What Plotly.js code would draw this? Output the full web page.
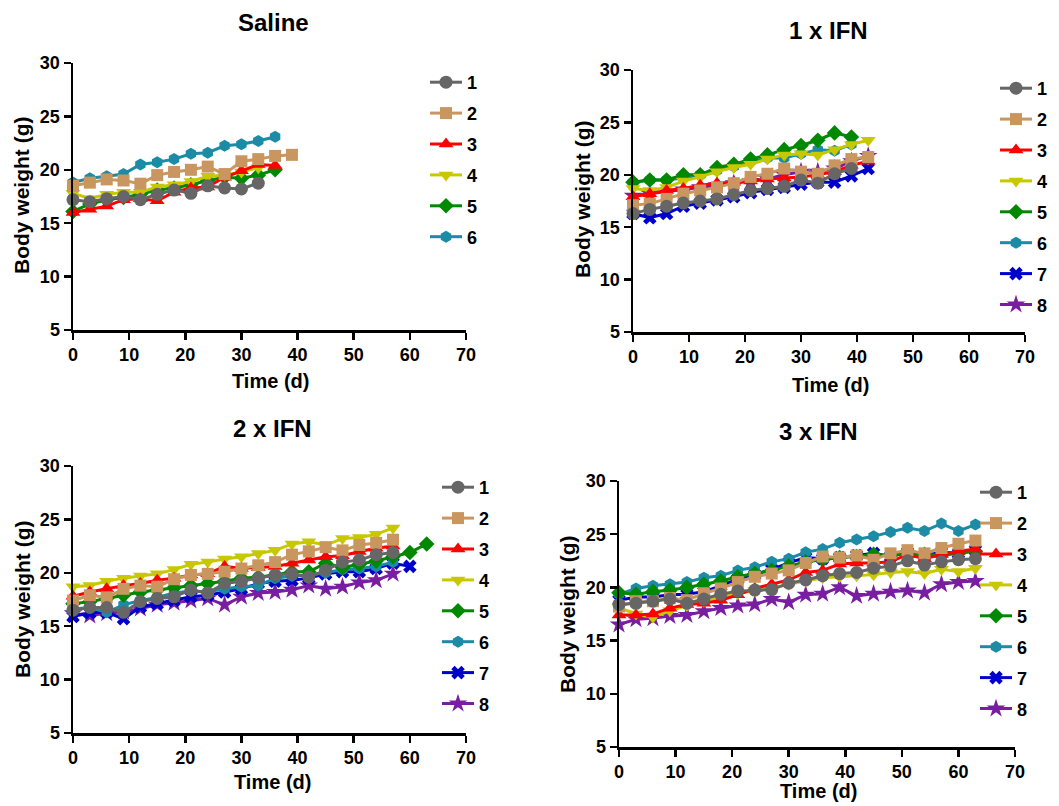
<!DOCTYPE html>
<html>
<head>
<meta charset="utf-8">
<script src="https://cdn.plot.ly/plotly-3.0.1.min.js"></script>
<style>html,body{margin:0;padding:0;background:#fff;}#chart{width:1059px;height:806px;}</style>
</head>
<body>
<div id="chart"></div>
<script>
// ---- data ----
const days = [0,3,6,9,12,15,18,21,24,27,30,33,36,39,42,45,48,51,54,57,60,63];
const seriesNames = ['1','2','3','4','5','6','7','8'];
const panelTitles = ['Saline','1 x IFN','2 x IFN','3 x IFN'];
const xTitle = 'Time (d)';
const yTitle = 'Body weight (g)';

// Saline
const saline1 = [17.2,17.0,17.3,17.5,17.2,17.7,18.1,17.8,18.5,18.3,18.2,18.75];
const saline2 = [18.5,18.8,19.1,19.0,18.7,19.5,19.8,20.0,20.3,19.6,20.8,21.0,21.3,21.4];
const saline3 = [16.0,16.3,16.6,17.2,17.3,17.1,17.9,18.3,18.4,19.3,19.9,20.5,20.4];
const saline4 = [17.8,17.3,17.7,17.9,17.9,18.4,18.6,18.9,19.4,19.5,19.8,20.2];
const saline5 = [16.1,16.8,17.2,17.4,17.7,18.1,18.3,18.6,19.0,19.3,19.2,19.5,20.0];
const saline6 = [18.8,19.2,19.4,19.6,20.5,20.7,21.0,21.5,21.6,22.25,22.4,22.7,23.1];

// 1 x IFN
const ifn1_1 = [16.3,16.7,17.0,17.3,17.5,17.7,18.1,18.5,18.7,18.9,19.5,19.2,20.1,20.6];
const ifn1_2 = [17.1,17.25,17.7,18.2,18.5,18.8,19.2,19.8,20.1,20.6,20.3,20.1,20.9,21.5,21.7];
const ifn1_3 = [17.9,18.2,18.5,18.7,19.0,19.2,19.3,19.4,19.6,19.7,19.8,20.0,20.3,20.9,21.3];
const ifn1_4 = [18.7,18.5,18.8,19.4,19.8,20.3,20.7,21.0,21.5,21.9,22.0,21.9,22.4,22.9,23.3];
const ifn1_5 = [19.3,19.5,19.5,20.0,20.0,20.7,21.0,21.5,21.9,22.4,22.8,23.3,24.0,23.6];
const ifn1_6 = [19.3,19.5,19.5,19.7,20.0,20.4,20.8,21.3,21.6,21.6,22.0,22.4,22.3,22.9];
const ifn1_7 = [16.3,15.9,16.3,17.0,17.3,17.6,17.9,18.3,18.6,18.8,19.1,19.3,19.3,19.9,20.6];
const ifn1_8 = [18.0,18.2,18.4,18.6,18.8,19.0,19.2,19.4,19.6,20.0,20.3,20.3,20.6,21.3,21.8];

// 2 x IFN
const ifn2_1 = [16.5,16.75,16.75,16.3,17.3,17.6,17.75,18.4,18.1,19.0,19.2,19.5,19.8,19.9,19.6,20.25,21.0,21.2,21.7,21.9];
const ifn2_2 = [17.4,17.9,17.7,18.5,18.8,18.7,19.4,19.8,19.9,20.1,20.4,20.7,21.0,21.7,22.0,22.4,22.1,22.6,22.8,23.1];
const ifn2_3 = [17.8,18.2,18.5,18.8,19.0,19.3,19.5,19.8,19.9,20.6,20.4,20.5,20.6,20.9,21.2,21.5,21.6,22.0,22.3,22.5];
const ifn2_4 = [18.7,18.8,19.2,19.5,19.7,19.9,20.3,20.8,21.0,21.3,21.5,21.8,22.1,22.7,22.9,22.6,23.2,23.3,23.6,24.2];
const ifn2_5 = [17.1,17.3,17.6,17.9,18.2,18.4,18.6,18.8,19.0,19.2,19.5,19.6,19.8,20.1,20.1,20.9,20.5,20.8,21.1,21.5,21.9,22.7];
const ifn2_6 = [16.6,16.75,16.3,17.0,17.4,17.7,18.1,18.3,18.2,18.5,18.7,18.8,19.5,19.7,19.8,20.0,20.3,20.4,20.6,21.0];
const ifn2_7 = [15.9,16.25,16.3,15.7,16.8,17.1,17.4,17.75,17.9,18.2,18.5,19.0,19.2,19.3,19.5,19.9,20.1,20.1,20.4,20.9,20.6];
const ifn2_8 = [16.2,16.0,16.2,16.35,16.65,17.0,17.2,17.4,17.6,17.0,17.75,18.1,18.2,18.4,18.8,18.5,18.7,19.1,19.3,19.9];

// 3 x IFN
const ifn3_1 = [18.4,18.5,18.7,18.9,18.5,18.9,19.35,19.65,19.75,19.8,20.4,20.7,21.1,21.3,21.4,21.8,22.0,22.5,22.1,22.4,22.6,22.7];
const ifn3_2 = [18.2,18.7,18.7,19.0,18.8,19.45,19.9,20.5,21.0,21.3,21.6,22.3,22.9,22.8,23.0,22.6,23.2,23.5,23.2,23.7,24.1,24.4];
const ifn3_3 = [17.4,17.4,17.5,18.05,18.4,18.5,18.8,19.3,19.9,20.3,20.7,21.4,21.6,22.2,22.3,22.3,22.4,23.1,22.7,23.1,23.4,23.6];
const ifn3_4 = [18.1,17.5,17.2,17.8,18.3,18.7,19.1,19.4,19.7,19.9,20.3,20.6,20.9,21.0,21.1,21.2,21.4,21.5,21.3,21.7,21.5,21.8];
const ifn3_5 = [19.5,19.35,19.6,19.75,20.0,20.3,20.6,21.0,21.3,21.6,22.0,22.4,22.6,22.8,22.9,23.1,23.0,23.2,23.1,23.0,23.2,23.4];
const ifn3_6 = [19.35,19.9,20.15,20.3,20.5,20.9,21.1,21.6,21.9,22.4,22.7,23.3,23.6,24.2,24.5,24.8,25.2,25.6,25.3,26.0,25.3,25.9];
const ifn3_7 = [18.8,19.1,19.1,19.3,19.35,19.6,20.15,20.8,21.2,21.7,22.3,22.8,22.7,22.8,23.0,23.2,22.9,23.3,23.0,23.3,23.2,23.5];
const ifn3_8 = [16.5,17.0,17.1,17.3,17.4,17.75,18.05,18.3,18.4,18.9,18.6,19.3,19.4,20.0,19.2,19.4,19.6,19.7,19.5,20.3,20.5,20.6];

const panels = [
  [saline1, saline2, saline3, saline4, saline5, saline6],
  [ifn1_1, ifn1_2, ifn1_3, ifn1_4, ifn1_5, ifn1_6, ifn1_7, ifn1_8],
  [ifn2_1, ifn2_2, ifn2_3, ifn2_4, ifn2_5, ifn2_6, ifn2_7, ifn2_8],
  [ifn3_1, ifn3_2, ifn3_3, ifn3_4, ifn3_5, ifn3_6, ifn3_7, ifn3_8]
];

// ---- styles ----
const colors = ['#666666','#C9965F','#FF0000','#C8C800','#008800','#1B8BA6','#0000CC','#7A1EA1'];
const symbols = ['circle','square','triangle-up','triangle-down','diamond','hexagon','x','star'];
const msizes = [13,12,13,13,12,12,12,14];
const FONT = 'Liberation Sans, Arial, sans-serif';
const W = 1059, H = 806;
const px = v => v / W;
const py = v => 1 - v / H;

// panel boxes in pixels: [x0, x70, y30, y5]
const boxes = [
  [73, 466, 63, 330],
  [633, 1025, 70, 332],
  [73, 466, 466, 733],
  [619, 1015, 481, 747]
];
const legendPos = [[425, 64], [995, 70], [437, 469], [975, 474]];
const titlePos = [[273, 22], [828, 30], [272, 428], [818, 432]];
const xTitlePos = [[270, 381], [830, 385], [272, 782], [818, 791]];
const yTitlePos = [[22, 196], [582, 200], [22, 600], [567, 615]];

const traces = [];
panels.forEach((series, p) => {
  const ax = p === 0 ? '' : String(p + 1);
  for (let i = series.length - 1; i >= 0; i--) {
    const vals = series[i];
    traces.push({
      type: 'scatter', mode: 'lines+markers',
      x: days.slice(0, vals.length), y: vals,
      xaxis: 'x' + ax, yaxis: 'y' + ax,
      name: seriesNames[i],
      legend: p === 0 ? 'legend' : 'legend' + (p + 1),
      legendgroup: 'p' + p + 's' + i,
      legendrank: i + 1,
      line: {color: colors[i], width: 3},
      marker: {symbol: symbols[i], size: msizes[i], color: colors[i], line: {width: 0}},
      cliponaxis: false,
      hoverinfo: 'x+y+name'
    });
  }
});

const layout = {
  width: W, height: H,
  margin: {l: 0, r: 0, t: 0, b: 0},
  paper_bgcolor: '#fff', plot_bgcolor: 'rgba(0,0,0,0)',
  showlegend: true,
  font: {family: FONT, color: '#000'},
  annotations: []
};

boxes.forEach((b, p) => {
  const ax = p === 0 ? '' : String(p + 1);
  const common = {
    showline: true, linecolor: '#000', linewidth: 2.5, mirror: false,
    ticks: 'outside', ticklen: 7, tickwidth: 2.5, tickcolor: '#000',
    showgrid: false, zeroline: false, fixedrange: true,
    tickfont: {family: FONT, size: 18, color: '#000', weight: 'bold'}
  };
  layout['xaxis' + ax] = Object.assign({}, common, {
    domain: [px(b[0]), px(b[1])], range: [0, 70], tick0: 0, dtick: 10,
    anchor: 'y' + ax
  });
  layout['yaxis' + ax] = Object.assign({}, common, {
    domain: [py(b[3]), py(b[2])], range: [5, 30], tick0: 5, dtick: 5,
    anchor: 'x' + ax
  });
  const lg = {
    x: px(legendPos[p][0]), y: py(legendPos[p][1]),
    xanchor: 'left', yanchor: 'top',
    bgcolor: 'rgba(0,0,0,0)', borderwidth: 0,
    font: {family: FONT, size: 18, color: '#000', weight: 'bold'},
    tracegroupgap: 4.5, traceorder: 'grouped', itemwidth: 32
  };
  layout[p === 0 ? 'legend' : 'legend' + (p + 1)] = lg;
  layout.annotations.push({
    text: panelTitles[p], xref: 'paper', yref: 'paper',
    x: px(titlePos[p][0]), y: py(titlePos[p][1]), xanchor: 'center', yanchor: 'middle',
    showarrow: false, font: {family: FONT, size: 24, color: '#000', weight: 'bold'}
  });
  layout.annotations.push({
    text: xTitle, xref: 'paper', yref: 'paper',
    x: px(xTitlePos[p][0]), y: py(xTitlePos[p][1]), xanchor: 'center', yanchor: 'middle',
    showarrow: false, font: {family: FONT, size: 20, color: '#000', weight: 'bold'}
  });
  layout.annotations.push({
    text: yTitle, xref: 'paper', yref: 'paper', textangle: -90,
    x: px(yTitlePos[p][0]), y: py(yTitlePos[p][1]), xanchor: 'center', yanchor: 'middle',
    showarrow: false, font: {family: FONT, size: 21, color: '#000', weight: 'bold'}
  });
});

Plotly.newPlot('chart', traces, layout, {displayModeBar: false, staticPlot: true});
</script>
</body>
</html>
